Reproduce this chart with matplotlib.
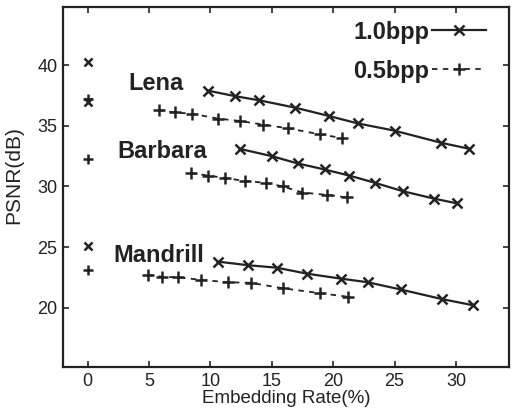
import matplotlib
matplotlib.use("Agg")
import matplotlib.pyplot as plt

plt.rcParams['font.family'] = ['Liberation Sans', 'DejaVu Sans']

# embedding rate (%) and PSNR (dB)
lena_10_x = [0, 9.8, 12.0, 14.0, 16.9, 19.7, 22.0, 25.0, 28.8, 31.1]
lena_10_y = [40.3, 37.9, 37.45, 37.1, 36.5, 35.8, 35.2, 34.6, 33.6, 33.1]
lena_05_x = [0, 5.8, 7.1, 8.5, 10.6, 12.4, 14.3, 16.3, 18.9, 20.7]
lena_05_y = [37.2, 36.3, 36.1, 36.0, 35.6, 35.4, 35.1, 34.8, 34.3, 34.0]

barb_10_x = [0, 12.4, 15.0, 17.1, 19.3, 21.3, 23.4, 25.7, 28.2, 30.1]
barb_10_y = [37.0, 33.1, 32.5, 31.9, 31.4, 30.9, 30.3, 29.6, 29.0, 28.6]
barb_05_x = [0, 8.4, 9.8, 11.2, 12.8, 14.5, 15.9, 17.5, 19.5, 21.1]
barb_05_y = [32.3, 31.1, 30.9, 30.7, 30.45, 30.3, 30.0, 29.5, 29.3, 29.1]

mand_10_x = [0, 10.6, 13.1, 15.4, 17.9, 20.6, 22.8, 25.5, 28.9, 31.4]
mand_10_y = [25.1, 23.8, 23.5, 23.3, 22.8, 22.4, 22.1, 21.5, 20.7, 20.2]
mand_05_x = [0, 4.9, 6.1, 7.4, 9.2, 11.4, 13.3, 15.9, 18.9, 21.2]
mand_05_y = [23.1, 22.7, 22.55, 22.5, 22.3, 22.1, 22.05, 21.6, 21.2, 20.9]

names = ["Lena", "Barbara", "Mandrill"]
name_pos = [(3.3, 37.95), (2.4, 32.35), (2.1, 23.8)]

ink = '#222222'

fig = plt.figure(figsize=(5.16, 4.12), dpi=100)
ax = fig.add_axes([0.122, 0.109, 0.864, 0.874])

series = [(lena_10_x, lena_10_y, lena_05_x, lena_05_y),
          (barb_10_x, barb_10_y, barb_05_x, barb_05_y),
          (mand_10_x, mand_10_y, mand_05_x, mand_05_y)]

for i, (x1, y1, x2, y2) in enumerate(series):
    # the x=0 points stand alone, the curves start at the second point
    ax.plot(x1[0], y1[0], 'x', color=ink, ms=6, mew=1.8)
    ax.plot(x2[0], y2[0], '+', color=ink, ms=7, mew=1.8)
    l1, = ax.plot(x1[1:], y1[1:], '-', marker='x', color=ink, lw=1.6, ms=6.5, mew=1.8)
    l2, = ax.plot(x2[1:], y2[1:], '--', marker='+', color=ink, lw=1.3, ms=8, mew=1.8,
                  dashes=(3, 3))
    if i == 0:
        h1, h2 = l1, l2

for n, (px, py) in zip(names, name_pos):
    ax.text(px, py, n, fontsize=17, color=ink, weight='bold',
            va='baseline', ha='left')

leg = ax.legend([h1, h2], ["1.0bpp", "0.5bpp"], loc='upper right',
                bbox_to_anchor=(0.975, 0.995), frameon=False,
                markerfirst=False, labelspacing=0.68, handlelength=2.3,
                handletextpad=0.1, borderaxespad=0.2, borderpad=0.3,
                prop={'size': 17, 'weight': 'bold'})
for t in leg.get_texts():
    t.set_color(ink)

ax.set_xlim(-2, 34.3)
ax.set_ylim(15.1, 44.8)
ax.set_xticks([0, 5, 10, 15, 20, 25, 30])
ax.set_yticks([20, 25, 30, 35, 40])
ax.tick_params(direction='in', top=True, right=True, labelsize=13, colors=ink,
               length=4, width=1.2, pad=4)
for s in ax.spines.values():
    s.set_linewidth(1.6)
    s.set_color(ink)

ax.set_xlabel("Embedding Rate(%)", fontsize=13.5, color=ink, labelpad=0.5)
ax.set_ylabel("PSNR(dB)", fontsize=15, color=ink)
ax.yaxis.set_label_coords(-0.09, 0.533)

fig.savefig("out.png", dpi=100)
